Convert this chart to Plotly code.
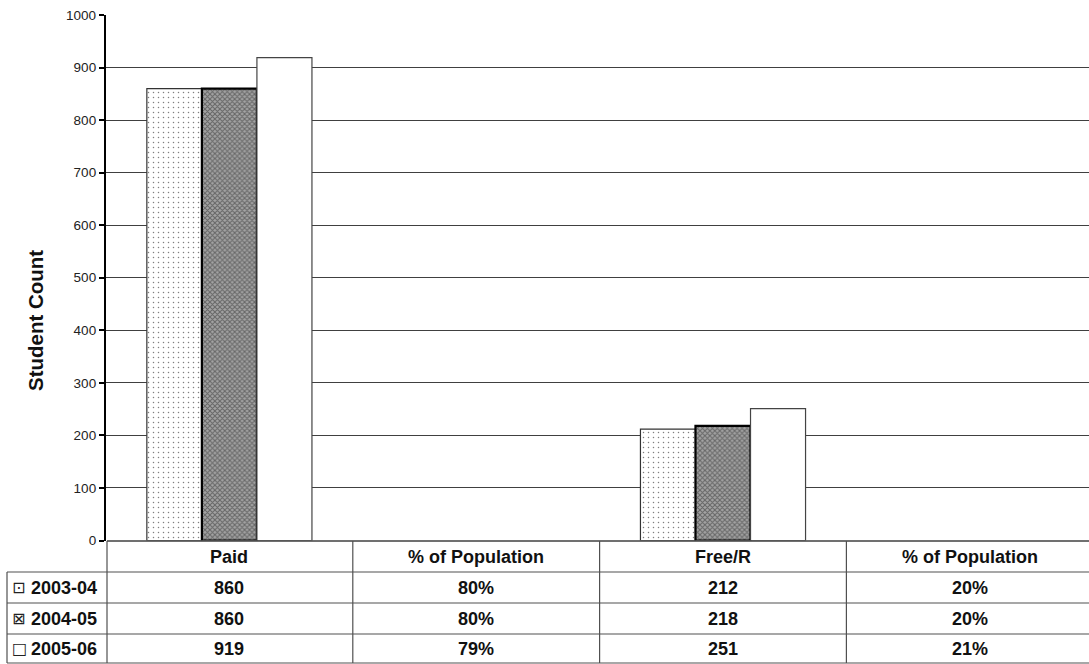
import plotly.graph_objects as go

# ---------------- data ----------------
categories = ["Paid", "% of Population", "Free/R", "% of Population"]
years = ["2003-04", "2004-05", "2005-06"]
paid = [860, 860, 919]
paid_pct = [80, 80, 79]
free = [212, 218, 251]
free_pct = [20, 20, 21]
legend_keys = ["\u22a1", "\u22a0", "\u25a1"]
y_ticks = [0, 100, 200, 300, 400, 500, 600, 700, 800, 900, 1000]
grid_vals = [100, 200, 300, 400, 500, 600, 700, 800, 900]

# ---------------- styling ----------------
W, H = 1089, 664
FONT = "Liberation Sans, Arial, sans-serif"
patterns = [
    dict(shape=".", bgcolor="white", fgcolor="#000000", size=5, solidity=0.07),
    dict(shape="x", bgcolor="#a4a4a4", fgcolor="#262626", size=3.5, solidity=0.5),
    dict(shape="", bgcolor="white", fgcolor="white"),
]
line_styles = [dict(color="#333333", width=1.2), dict(color="#000000", width=2.2), dict(color="#444444", width=1.2)]

x_pos = list(range(len(categories)))

def px_y(p):
    return (H - p) / H

fig = go.Figure()
for i, yr in enumerate(years):
    vals = [paid[i], None, free[i], None]
    fig.add_trace(go.Bar(
        x=x_pos, y=vals, name=yr,
        marker=dict(color="white", pattern=patterns[i], line=line_styles[i]),
        showlegend=False, hoverinfo="skip",
    ))

# dummy trace for grid axis
fig.add_trace(go.Scatter(x=[None], y=[None], yaxis="y3", showlegend=False, hoverinfo="skip"))

col_w = 246.8
x0_px = 106
x_range = [-0.5, -0.5 + (W - x0_px) / col_w]

fig.update_layout(
    width=W, height=H,
    margin=dict(l=0, r=0, t=0, b=0, pad=0, autoexpand=False),
    paper_bgcolor="white", plot_bgcolor="white",
    barmode="group", bargap=0.331, bargroupgap=0,
    font=dict(family=FONT, color="#111111"),
    xaxis=dict(domain=[x0_px / W, 1], range=x_range, showticklabels=False, ticks="",
               showgrid=False, zeroline=False, showline=False, fixedrange=True, automargin=False),
    yaxis=dict(domain=[px_y(540.5), px_y(15)], range=[0, 1000], tickvals=y_ticks,
               ticks="outside", ticklen=5, tickwidth=1.5, tickcolor="#000",
               tickfont=dict(family=FONT, size=13.5, color="#222"), automargin=False,
               showgrid=False, zeroline=False, showline=True, linecolor="#000", linewidth=2.3),
    yaxis3=dict(overlaying="y", range=[0, 1000], tickvals=grid_vals, showticklabels=False,
                ticks="", showgrid=True, gridcolor="#404040", gridwidth=1.3, zeroline=False,
                showline=False, automargin=False),
)

# ---------------- table ----------------
row_edges = [541, 572, 603, 634, 663]
line_c = dict(color="#505050", width=1.2)
shapes = []
shapes.append(dict(type="line", xref="paper", yref="paper", x0=107 / W, x1=1, y0=px_y(row_edges[0]), y1=px_y(row_edges[0]), line=dict(color="#404040", width=1.5)))
for e in row_edges[1:]:
    shapes.append(dict(type="line", xref="paper", yref="paper", x0=7 / W, x1=1, y0=px_y(e), y1=px_y(e), line=line_c))
shapes.append(dict(type="line", xref="paper", yref="paper", x0=7 / W, x1=7 / W, y0=px_y(row_edges[1]), y1=px_y(row_edges[-1]), line=line_c))
shapes.append(dict(type="line", xref="paper", yref="paper", x0=107 / W, x1=107 / W, y0=px_y(row_edges[0]), y1=px_y(row_edges[-1]), line=line_c))
for k in range(1, len(categories)):
    shapes.append(dict(type="line", xref="x", yref="paper", x0=k - 0.5, x1=k - 0.5, y0=px_y(row_edges[0]), y1=px_y(row_edges[-1]), line=line_c))

annotations = []
tfont = dict(family=FONT, size=18, color="#111")
for k, c in enumerate(categories):
    annotations.append(dict(x=k, y=px_y((row_edges[0] + row_edges[1]) / 2), xref="x", yref="paper",
                            xanchor="center", yanchor="middle",
                            text="<b>%s</b>" % c, showarrow=False, font=tfont))
for i, yr in enumerate(years):
    yc = px_y((row_edges[i + 1] + row_edges[i + 2]) / 2)
    cells = [str(paid[i]), "%d%%" % paid_pct[i], str(free[i]), "%d%%" % free_pct[i]]
    for k, t in enumerate(cells):
        annotations.append(dict(x=k, y=yc, xref="x", yref="paper", xanchor="center", yanchor="middle",
                                text="<b>%s</b>" % t, showarrow=False, font=tfont))
    annotations.append(dict(x=10 / W, y=yc, xref="paper", yref="paper", xanchor="left", yanchor="middle",
                            text=legend_keys[i], showarrow=False,
                            font=dict(family="DejaVu Sans", size=16, color="#222")))
    annotations.append(dict(x=29 / W, y=yc, xref="paper", yref="paper", xanchor="left", yanchor="middle",
                            text="<b>%s</b>" % yr, showarrow=False, font=tfont))

annotations.append(dict(x=35 / W, y=px_y(321), xref="paper", yref="paper", text="<b>Student Count</b>",
                        xanchor="center", yanchor="middle",
                        textangle=-90, showarrow=False, font=dict(family=FONT, size=20.5, color="#111")))

fig.update_layout(shapes=shapes, annotations=annotations)
fig.write_html("out.html", config={"displayModeBar": False},
               post_script="document.body.style.margin='0';document.body.style.overflow='hidden';")
